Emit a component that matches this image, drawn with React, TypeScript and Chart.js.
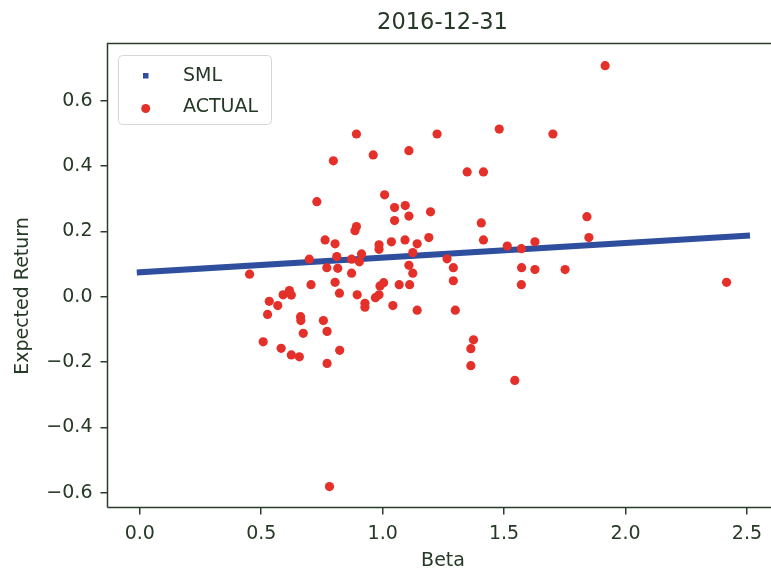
import React, { useEffect, useRef } from "react";
import { Chart, registerables } from "chart.js";

Chart.register(...registerables);

const TITLE = "2016-12-31";
const X_LABEL = "Beta";
const Y_LABEL = "Expected Return";
const SML_LABEL = "SML";
const ACTUAL_LABEL = "ACTUAL";

const xTicks = [0, 0.5, 1.0, 1.5, 2.0, 2.5];
const yTicks = [-0.6, -0.4, -0.2, 0, 0.2, 0.4, 0.6];

const smlBeta = [0, 2.5];
const smlReturn = [0.075, 0.187];

const actualBeta = [
  0.892, 0.797, 0.961, 1.108, 1.224, 0.729, 1.008, 1.049, 1.093, 1.049,
  1.108, 1.197, 0.892, 0.886, 0.763, 0.804, 0.985, 0.985, 1.036, 1.092,
  1.142, 1.19, 0.698, 0.811, 0.872, 0.913, 0.904, 1.124, 0.77, 0.815,
  1.108, 1.124, 0.452, 0.872, 0.705, 0.804, 0.822, 0.895, 0.989, 1.004,
  0.985, 0.97, 1.068, 1.111, 1.042, 1.142, 0.927, 0.927, 0.616, 0.59,
  0.624, 0.533, 0.568, 0.526, 0.662, 0.663, 0.756, 0.673, 0.771, 0.508,
  0.582, 0.624, 0.657, 0.823, 0.771, 0.781, 1.916, 1.48, 1.701, 1.348,
  1.415, 1.406, 1.841, 1.415, 1.849, 1.513, 1.571, 1.627, 1.265, 1.291,
  1.572, 1.627, 1.751, 1.291, 1.571, 2.416, 1.299, 1.374, 1.363, 1.363,
  1.544,
];
const actualReturn = [
  0.498, 0.416, 0.434, 0.447, 0.498, 0.291, 0.312, 0.273, 0.279, 0.233,
  0.247, 0.26, 0.215, 0.202, 0.174, 0.162, 0.159, 0.145, 0.168, 0.174,
  0.162, 0.181, 0.115, 0.123, 0.115, 0.131, 0.107, 0.135, 0.089, 0.087,
  0.096, 0.072, 0.069, 0.072, 0.037, 0.044, 0.011, 0.006, 0.033, 0.043,
  0.006, -0.003, 0.037, 0.037, -0.027, -0.041, -0.02, -0.032, 0.019, 0.006,
  0.005, -0.014, -0.027, -0.054, -0.061, -0.073, -0.073, -0.112, -0.106, -0.138,
  -0.158, -0.178, -0.184, -0.164, -0.204, -0.581, 0.707, 0.513, 0.498, 0.382,
  0.382, 0.226, 0.245, 0.174, 0.181, 0.155, 0.147, 0.168, 0.116, 0.089,
  0.089, 0.083, 0.083, 0.049, 0.037, 0.044, -0.041, -0.132, -0.159, -0.211,
  -0.256,
];

const FONT = "'DejaVu Sans', sans-serif";
const TEXT = "#263826";
const AXIS = "#2c3c2c";
const BLUE = "#2f4e9e";
const RED = "#e5302a";

const decor = {
  id: "decor",
  afterDraw(chart: any) {
    const { ctx, chartArea: a } = chart;
    ctx.save();
    // spines
    ctx.strokeStyle = AXIS;
    ctx.lineWidth = 1.5;
    ctx.beginPath();
    ctx.moveTo(a.left, a.bottom);
    ctx.lineTo(a.left, a.top);
    ctx.lineTo(a.right + 5, a.top);
    ctx.moveTo(a.left, a.bottom);
    ctx.lineTo(a.right + 5, a.bottom);
    ctx.stroke();

    // title
    ctx.fillStyle = TEXT;
    ctx.textAlign = "center";
    ctx.textBaseline = "middle";
    ctx.font = `22.5px ${FONT}`;
    ctx.fillText(TITLE, 442.5, 23);

    // axis titles
    ctx.font = `19px ${FONT}`;
    ctx.fillText(X_LABEL, 443, 561);
    ctx.save();
    ctx.translate(23, 296);
    ctx.rotate(-Math.PI / 2);
    ctx.fillText(Y_LABEL, 0, 0);
    ctx.restore();

    // legend
    const bx = 118.5, by = 55.5, bw = 153, bh = 69, r = 4;
    ctx.beginPath();
    ctx.moveTo(bx + r, by);
    ctx.lineTo(bx + bw - r, by);
    ctx.quadraticCurveTo(bx + bw, by, bx + bw, by + r);
    ctx.lineTo(bx + bw, by + bh - r);
    ctx.quadraticCurveTo(bx + bw, by + bh, bx + bw - r, by + bh);
    ctx.lineTo(bx + r, by + bh);
    ctx.quadraticCurveTo(bx, by + bh, bx, by + bh - r);
    ctx.lineTo(bx, by + r);
    ctx.quadraticCurveTo(bx, by, bx + r, by);
    ctx.closePath();
    ctx.fillStyle = "rgba(255,255,255,0.85)";
    ctx.fill();
    ctx.strokeStyle = "#d4d8d4";
    ctx.lineWidth = 1;
    ctx.stroke();

    const ds = chart.data.datasets;
    const sml = ds.find((d: any) => d.label === SML_LABEL);
    const act = ds.find((d: any) => d.label === ACTUAL_LABEL);
    ctx.fillStyle = sml.borderColor;
    ctx.fillRect(143, 73, 5.5, 5.5);
    ctx.fillStyle = act.backgroundColor;
    ctx.beginPath();
    ctx.arc(145.7, 108.5, 4.5, 0, Math.PI * 2);
    ctx.fill();

    ctx.fillStyle = TEXT;
    ctx.textAlign = "left";
    ctx.font = `19px ${FONT}`;
    ctx.fillText(SML_LABEL, 183, 76);
    ctx.fillText(ACTUAL_LABEL, 183, 107);
    ctx.restore();
  },
};

export default function App() {
  const ref = useRef<HTMLCanvasElement>(null);

  useEffect(() => {
    document.body.style.margin = "0";
    const canvas = ref.current!;
    const chart = new Chart(canvas, {
      type: "scatter",
      data: {
        datasets: [
          {
            label: ACTUAL_LABEL,
            data: actualBeta.map((b, i) => ({ x: b, y: actualReturn[i] })),
            backgroundColor: RED,
            borderColor: RED,
            pointRadius: 4.6,
            pointBorderWidth: 0,
            order: 1,
          },
          {
            label: SML_LABEL,
            data: smlBeta.map((b, i) => ({ x: b, y: smlReturn[i] })),
            showLine: true,
            borderColor: BLUE,
            backgroundColor: BLUE,
            borderWidth: 6,
            borderCapStyle: "square",
            pointRadius: 0,
            order: 2,
          } as any,
        ],
      },
      options: {
        responsive: false,
        animation: false,
        devicePixelRatio: 1,
        layout: { padding: { top: 43.5, left: 0, right: 0, bottom: 0 } },
        plugins: {
          legend: { display: false },
          tooltip: { enabled: false },
          title: { display: false },
        },
        scales: {
          x: {
            type: "linear",
            min: -0.133,
            max: 2.58,
            afterBuildTicks: (s: any) => {
              s.ticks = xTicks.map((v) => ({ value: v }));
            },
            afterFit: (s: any) => {
              s.height = 65.5;
            },
            ticks: {
              color: TEXT,
              font: { family: FONT, size: 19 },
              padding: 8,
              maxRotation: 0,
              autoSkip: false,
              callback: (v: any) => Number(v).toFixed(1),
            },
            grid: {
              display: true,
              drawOnChartArea: false,
              drawTicks: true,
              tickLength: 7,
              tickColor: AXIS,
              lineWidth: 1.5,
            },
            border: { display: false },
          },
          y: {
            type: "linear",
            min: -0.645,
            max: 0.775,
            afterBuildTicks: (s: any) => {
              s.ticks = yTicks.map((v) => ({ value: v }));
            },
            afterFit: (s: any) => {
              s.width = 107.5;
            },
            ticks: {
              color: TEXT,
              font: { family: FONT, size: 19 },
              padding: 8,
              autoSkip: false,
              callback: (v: any) => Number(v).toFixed(1).replace("-", "\u2212"),
            },
            grid: {
              display: true,
              drawOnChartArea: false,
              drawTicks: true,
              tickLength: 7,
              tickColor: AXIS,
              lineWidth: 1.5,
            },
            border: { display: false },
          },
        },
      },
      plugins: [decor],
    });
    return () => chart.destroy();
  }, []);

  return (
    <div style={{ width: 771, height: 573, background: "#fff" }}>
      <canvas ref={ref} width={771} height={573} />
    </div>
  );
}
